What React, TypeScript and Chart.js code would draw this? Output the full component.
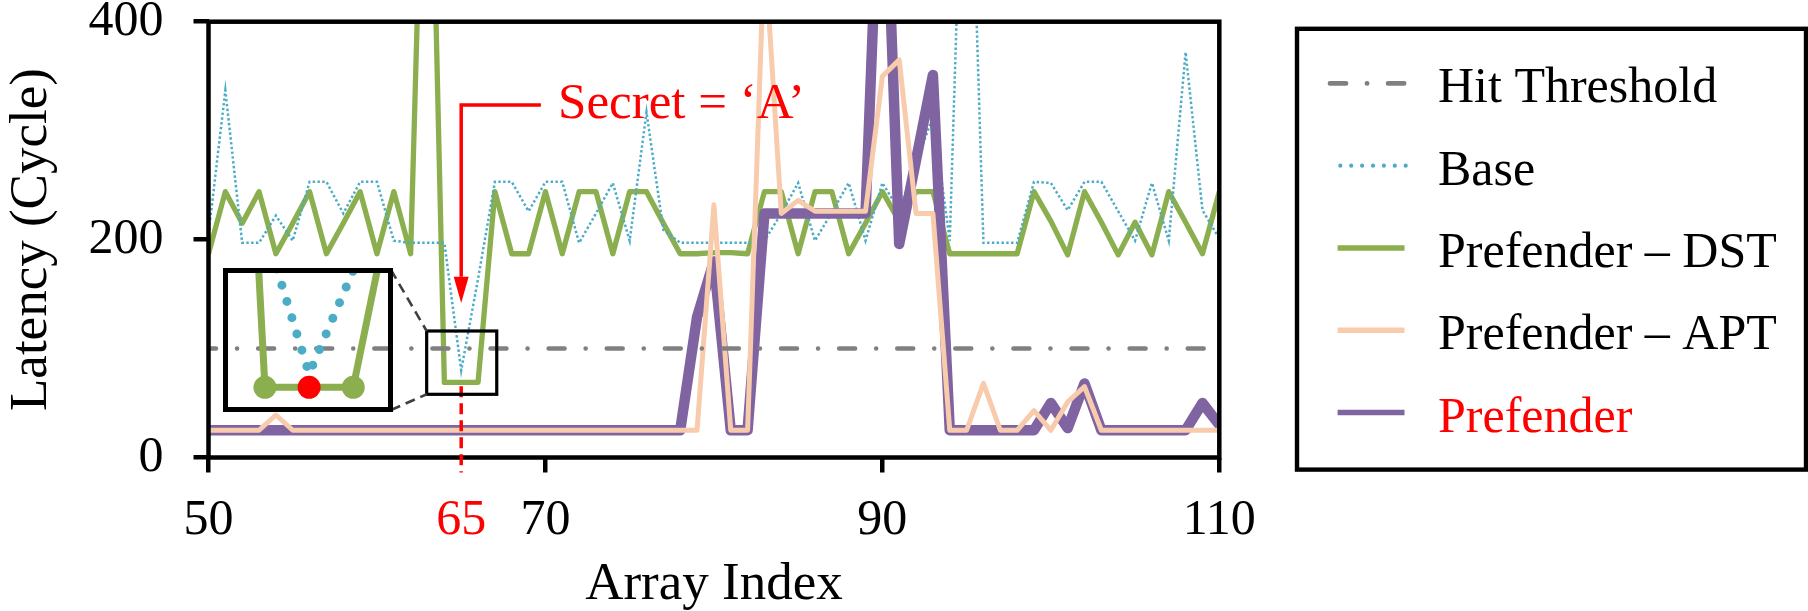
import React, { useEffect, useRef } from "react";
import { Chart, registerables } from "chart.js";

Chart.register(...registerables);

const FONT = "'Liberation Serif', 'Times New Roman', serif";
const RED = "#FF0000";
const GREEN = "#8BAE4E";
const BLUE = "#4BACC6";
const PEACH = "#F8CBAD";
const PURPLE = "#8064A2";
const GRAY = "#808080";

// ---------- data ----------
const arrayIndex = [
  50, 51, 52, 53, 54, 55, 56, 57, 58, 59,
  60, 61, 62, 63, 64, 65, 66, 67, 68, 69,
  70, 71, 72, 73, 74, 75, 76, 77, 78, 79,
  80, 81, 82, 83, 84, 85, 86, 87, 88, 89,
  90, 91, 92, 93, 94, 95, 96, 97, 98, 99,
  100, 101, 102, 103, 104, 105, 106, 107, 108, 109,
  110,
];

const hitThreshold = 100;

const baseLatency = [
  205, 337, 197, 197, 222, 199, 253, 253, 224, 253,
  253, 199, 197, 197, 197, 80, 164, 253, 253, 226,
  253, 253, 197, 224, 252, 199, 317, 209, 197, 197,
  197, 197, 197, 199, 224, 252, 199, 225, 252, 199,
  252, 227, 270, 313, 199, 700, 197, 197, 197, 253,
  252, 227, 253, 253, 226, 199, 252, 199, 372, 227,
  201,
];

const dstLatency = [
  187, 244, 215, 244, 187, 215, 244, 187, 215, 244,
  187, 244, 187, 740, 69, 69, 69, 244, 187, 187,
  244, 187, 244, 244, 187, 244, 244, 215, 187, 187,
  188, 188, 187, 244, 244, 187, 244, 244, 187, 215,
  244, 217, 244, 244, 187, 187, 187, 187, 187, 244,
  217, 186, 244, 216, 186, 216, 186, 244, 216, 187,
  244,
];

const aptLatency = [
  25, 25, 25, 25, 39, 25, 25, 25, 25, 25,
  25, 25, 25, 25, 25, 25, 25, 25, 25, 25,
  25, 25, 25, 25, 25, 25, 25, 25, 25, 25,
  232, 25, 25, 470, 224, 236, 226, 226, 226, 226,
  350, 365, 224, 224, 25, 25, 68, 25, 25, 43,
  25, 51, 65, 25, 25, 25, 25, 25, 25, 25,
  25,
];

const prefenderLatency = [
  25, 25, 25, 25, 25, 25, 25, 25, 25, 25,
  25, 25, 25, 25, 25, 25, 25, 25, 25, 25,
  25, 25, 25, 25, 25, 25, 25, 25, 25, 129,
  180, 25, 25, 224, 224, 224, 224, 224, 224, 224,
  620, 196, 273, 351, 25, 25, 25, 25, 25, 25,
  50, 27, 68, 25, 25, 25, 25, 25, 25, 50,
  30,
];

const xTickValues = [50, 65, 70, 90, 110];
const yTickValues = [0, 200, 400];
const secretIndex = 65;
const secretLabel = "Secret = \u2018A\u2019";
const zoomMarkers = [64, 66];

const seriesLabels = ["Hit Threshold", "Base", "Prefender \u2013 DST", "Prefender \u2013 APT", "Prefender"];

// ---------- layout constants (pixels / data-space anchors) ----------
const W = 1808;
const H = 611;
const PLOT = { left: 208.5, top: 21.7, right: 1219.3, bottom: 457.5 };
const INSET = { left: 223, top: 268, width: 170, height: 144 };
const INSET_X = [63.05, 66.9];
const INSET_Y = [48.9, 166];
const ZOOM_BOX = { x0: 62.95, x1: 67.11, y0: 58, y1: 116.1 };
const ARROW = { xEnd: 69.73, yTop: 323.5, yBase: 166, yTip: 141.8 };
const SECRET_TEXT = { x: 70.75, y: 311.3 };
const LEGEND_BOX = { left: 1297, top: 28.8, right: 1806, bottom: 469.6 };
const LEGEND_ROWS = [83.4, 165.7, 248, 330.3, 412.6];

const pts = (vals: number[]) => arrayIndex.map((x, i) => ({ x, y: vals[i] }));
const secretValue = dstLatency[arrayIndex.indexOf(secretIndex)];

const THRESH_DASH = [16, 21, 0.1, 21];

const legendSamples: any[] = [
  { color: GRAY, width: 4.8, dash: THRESH_DASH, cap: "round", x0: 1330, x1: 1405, text: "#000" },
  { color: BLUE, width: 4.2, dash: [0, 10.9], cap: "round", x0: 1340.3, x1: 1407, text: "#000" },
  { color: GREEN, width: 5.5, dash: [], cap: "butt", x0: 1337.6, x1: 1404.5, text: "#000" },
  { color: PEACH, width: 5.5, dash: [], cap: "butt", x0: 1337.6, x1: 1404.5, text: "#000" },
  { color: PURPLE, width: 5.5, dash: [], cap: "butt", x0: 1337.6, x1: 1404.5, text: RED },
];

const decorPlugin = {
  id: "decor",
  afterDraw(chart: any) {
    const { ctx, chartArea: ca } = chart;
    const xs = chart.scales.x;
    const ys = chart.scales.y;
    ctx.save();

    // plot frame
    ctx.setLineDash([]);
    ctx.strokeStyle = "#000";
    ctx.lineWidth = 4.5;
    ctx.strokeRect(ca.left, ca.top, ca.right - ca.left, ca.bottom - ca.top);

    // red dashed drop line at the secret index
    const sx = xs.getPixelForValue(secretIndex);
    const sy = ys.getPixelForValue(secretValue);
    ctx.strokeStyle = RED;
    ctx.lineWidth = 3.5;
    ctx.setLineDash([11, 6]);
    ctx.beginPath();
    ctx.moveTo(sx, sy + 4);
    ctx.lineTo(sx, ca.bottom + 15);
    ctx.stroke();

    // zoom box
    const bx0 = xs.getPixelForValue(ZOOM_BOX.x0);
    const bx1 = xs.getPixelForValue(ZOOM_BOX.x1);
    const by0 = ys.getPixelForValue(ZOOM_BOX.y1);
    const by1 = ys.getPixelForValue(ZOOM_BOX.y0);
    ctx.setLineDash([]);
    ctx.strokeStyle = "#000";
    ctx.lineWidth = 3.2;
    ctx.strokeRect(bx0, by0, bx1 - bx0, by1 - by0);

    // connectors to the inset
    ctx.strokeStyle = "#404040";
    ctx.lineWidth = 2.6;
    ctx.setLineDash([10, 6]);
    ctx.beginPath();
    ctx.moveTo(INSET.left + INSET.width - 2, INSET.top + 2);
    ctx.lineTo(bx0, by0);
    ctx.moveTo(INSET.left + INSET.width - 2, INSET.top + INSET.height - 2);
    ctx.lineTo(bx0, by1);
    ctx.stroke();

    // arrow
    const ax0 = xs.getPixelForValue(ARROW.xEnd);
    const ay0 = ys.getPixelForValue(ARROW.yTop);
    const ayb = ys.getPixelForValue(ARROW.yBase);
    const ayt = ys.getPixelForValue(ARROW.yTip);
    ctx.setLineDash([]);
    ctx.strokeStyle = RED;
    ctx.fillStyle = RED;
    ctx.lineWidth = 3.5;
    ctx.lineJoin = "miter";
    ctx.beginPath();
    ctx.moveTo(ax0, ay0);
    ctx.lineTo(sx, ay0);
    ctx.lineTo(sx, ayb);
    ctx.stroke();
    ctx.beginPath();
    ctx.moveTo(sx - 7.5, ayb);
    ctx.lineTo(sx + 7.5, ayb);
    ctx.lineTo(sx, ayt);
    ctx.closePath();
    ctx.fill();

    // annotation text
    ctx.font = `51px ${FONT}`;
    ctx.textAlign = "left";
    ctx.textBaseline = "alphabetic";
    ctx.fillStyle = RED;
    ctx.fillText(secretLabel, xs.getPixelForValue(SECRET_TEXT.x), ys.getPixelForValue(SECRET_TEXT.y));

    // legend
    ctx.strokeStyle = "#000";
    ctx.lineWidth = 4.4;
    ctx.setLineDash([]);
    ctx.strokeRect(LEGEND_BOX.left, LEGEND_BOX.top, LEGEND_BOX.right - LEGEND_BOX.left, LEGEND_BOX.bottom - LEGEND_BOX.top);
    chart.data.datasets.forEach((ds: any, i: number) => {
      const s = legendSamples[i];
      const y = LEGEND_ROWS[i];
      ctx.strokeStyle = s.color;
      ctx.lineWidth = s.width;
      ctx.lineCap = s.cap;
      ctx.setLineDash(s.dash);
      ctx.lineDashOffset = 0;
      ctx.beginPath();
      ctx.moveTo(s.x0, y);
      ctx.lineTo(s.x1, y);
      ctx.stroke();
      ctx.setLineDash([]);
      ctx.font = `50px ${FONT}`;
      ctx.fillStyle = s.text;
      ctx.textAlign = "left";
      ctx.textBaseline = "alphabetic";
      ctx.fillText(ds.label, 1438, y + 19);
    });

    ctx.restore();
  },
};

const insetFramePlugin = {
  id: "insetFrame",
  afterDraw(chart: any) {
    const { ctx, width, height } = chart;
    ctx.save();
    ctx.strokeStyle = "#000";
    ctx.lineWidth = 5;
    ctx.setLineDash([]);
    ctx.strokeRect(2.5, 2.5, width - 5, height - 5);
    ctx.restore();
  },
};

const zeroPadding = (s: any) => {
  s.paddingTop = 0;
  s.paddingBottom = 0;
  s.paddingLeft = 0;
  s.paddingRight = 0;
};

export default function App() {
  const mainRef = useRef<HTMLCanvasElement | null>(null);
  const insetRef = useRef<HTMLCanvasElement | null>(null);

  useEffect(() => {
    document.body.style.margin = "0";
    const tickFont = { family: FONT, size: 50 };
    const titleFont = { family: FONT, size: 53 };

    const main = new Chart(mainRef.current as HTMLCanvasElement, {
      type: "line",
      data: {
        datasets: [
          {
            label: seriesLabels[0],
            data: [{ x: arrayIndex[0], y: hitThreshold }, { x: arrayIndex[arrayIndex.length - 1], y: hitThreshold }],
            borderColor: GRAY,
            borderWidth: 4.5,
            borderDash: THRESH_DASH,
            borderDashOffset: 8.5,
            borderCapStyle: "round",
            pointRadius: 0,
            order: 0,
            clip: 0,
          },
          {
            label: seriesLabels[1],
            data: pts(baseLatency),
            borderColor: BLUE,
            borderWidth: 2.5,
            borderDash: [2.4, 2.4],
            pointRadius: 0,
            order: 3,
            clip: 0,
          },
          {
            label: seriesLabels[2],
            data: pts(dstLatency),
            borderColor: GREEN,
            borderWidth: 5.3,
            borderJoinStyle: "round",
            pointRadius: 0,
            order: 4,
            clip: 0,
          },
          {
            label: seriesLabels[3],
            data: pts(aptLatency),
            borderColor: PEACH,
            borderWidth: 5,
            borderJoinStyle: "round",
            pointRadius: 0,
            order: 1,
            clip: 0,
          },
          {
            label: seriesLabels[4],
            data: pts(prefenderLatency),
            borderColor: PURPLE,
            borderWidth: 10.5,
            borderJoinStyle: "round",
            borderCapStyle: "round",
            pointRadius: 0,
            order: 2,
            clip: 0,
          },
        ] as any,
      },
      options: {
        animation: false,
        responsive: false,
        devicePixelRatio: 1,
        events: [],
        layout: {
          autoPadding: false,
          padding: { left: 0, top: PLOT.top, right: W - PLOT.right, bottom: 0 },
        },
        elements: { line: { tension: 0 } },
        plugins: { legend: { display: false }, tooltip: { enabled: false } },
        scales: {
          x: {
            type: "linear",
            min: 50,
            max: 110,
            afterBuildTicks: (s: any) => {
              s.ticks = xTickValues.map((v) => ({ value: v }));
            },
            afterFit: (s: any) => {
              s.height = H - PLOT.bottom;
              zeroPadding(s);
            },
            border: { display: false },
            grid: {
              drawOnChartArea: false,
              drawTicks: true,
              tickLength: 15,
              lineWidth: 4.5,
              color: (c: any) => (c.tick && c.tick.value === secretIndex ? "rgba(0,0,0,0)" : "#000"),
            },
            ticks: {
              autoSkip: false,
              maxRotation: 0,
              minRotation: 0,
              padding: 18,
              font: tickFont,
              color: (c: any) => (c.tick && c.tick.value === secretIndex ? RED : "#000"),
            },
            title: {
              display: true,
              text: "Array Index",
              font: { family: FONT, size: 53, lineHeight: 0.97 },
              color: "#000",
              padding: 0,
            },
          },
          y: {
            type: "linear",
            min: 0,
            max: 400,
            afterBuildTicks: (s: any) => {
              s.ticks = yTickValues.map((v) => ({ value: v }));
            },
            afterFit: (s: any) => {
              s.width = PLOT.left;
              zeroPadding(s);
            },
            border: { display: false },
            grid: {
              drawOnChartArea: false,
              drawTicks: true,
              tickLength: 15,
              lineWidth: 4.5,
              color: "#000",
            },
            ticks: { padding: 30, font: tickFont, color: "#000" },
            title: { display: true, text: "Latency (Cycle)", font: titleFont, color: "#000", padding: 0 },
          },
        },
      } as any,
      plugins: [decorPlugin],
    });

    const secretPoint = [{ x: secretIndex, y: secretValue }];
    const inset = new Chart(insetRef.current as HTMLCanvasElement, {
      type: "line",
      data: {
        datasets: [
          {
            data: secretPoint,
            showLine: false,
            pointRadius: 11.5,
            pointBackgroundColor: RED,
            pointBorderWidth: 0,
            order: 0,
          },
          {
            data: pts(dstLatency),
            borderColor: GREEN,
            borderWidth: 7,
            pointRadius: (c: any) => (c.raw && zoomMarkers.includes(c.raw.x) ? 11.5 : 0),
            pointBackgroundColor: GREEN,
            pointBorderWidth: 0,
            order: 1,
          },
          {
            data: pts(baseLatency),
            borderColor: BLUE,
            borderWidth: 9,
            borderDash: [0, 17],
            borderCapStyle: "round",
            pointRadius: 0,
            order: 2,
          },
        ] as any,
      },
      options: {
        animation: false,
        responsive: false,
        devicePixelRatio: 1,
        events: [],
        layout: { autoPadding: false, padding: 0 },
        elements: { line: { tension: 0 } },
        plugins: { legend: { display: false }, tooltip: { enabled: false } },
        scales: {
          x: { type: "linear", min: INSET_X[0], max: INSET_X[1], display: false },
          y: { type: "linear", min: INSET_Y[0], max: INSET_Y[1], display: false },
        },
      } as any,
      plugins: [insetFramePlugin],
    });

    return () => {
      main.destroy();
      inset.destroy();
    };
  }, []);

  return (
    <div style={{ position: "relative", width: W, height: H, background: "#fff", overflow: "hidden" }}>
      <canvas ref={mainRef} width={W} height={H} style={{ position: "absolute", left: 0, top: 0, display: "block" }} />
      <canvas
        ref={insetRef}
        width={INSET.width}
        height={INSET.height}
        style={{ position: "absolute", left: INSET.left, top: INSET.top, display: "block" }}
      />
    </div>
  );
}
